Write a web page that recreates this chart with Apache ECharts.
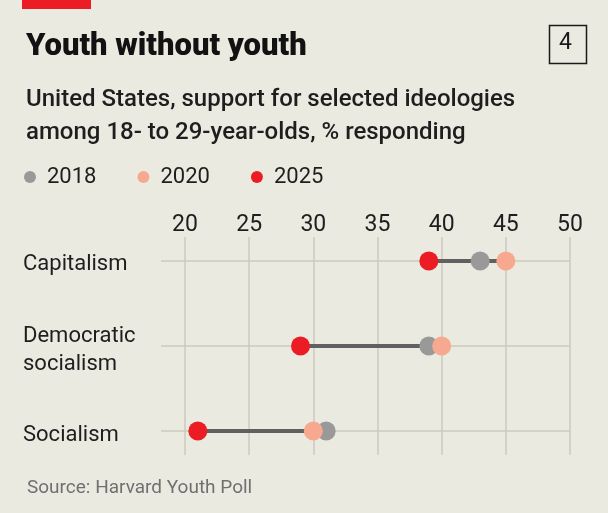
<!DOCTYPE html>
<html lang="en">
<head>
    <meta charset="UTF-8">
    <title>Youth without youth</title>
    <style>
        html, body { margin: 0; padding: 0; background: #ebeae0; }
        #chart { width: 608px; height: 513px; }
    </style>
</head>
<body>
    <div id="chart"></div>
    <script src="https://cdn.jsdelivr.net/npm/echarts@6/dist/echarts.min.js"></script>
    <script type="text/javascript">
        var categories = ['Capitalism', 'Democratic\nsocialism', 'Socialism'];
        var years = ['2018', '2020', '2025'];
        var values2018 = [43, 39, 31];
        var values2020 = [45, 40, 30];
        var values2025 = [39, 29, 21];
        var xTicks = [20, 25, 30, 35, 40, 45, 50];

        var RED = '#ec1c24';
        var PINK = '#f6a98e';
        var GREY = '#999999';
        var FONT = 'Roboto';

        // one row per category: [index, low, high]
        var spans = [];
        for (var i = 0; i < categories.length; i++) {
            var vals = [values2018[i], values2020[i], values2025[i]];
            spans.push([i, Math.min.apply(null, vals), Math.max.apply(null, vals)]);
        }
        var points = function(arr){
            return arr.map(function(v, i){ return [v, i]; });
        };
        // top padding nudges the label text a few px lower
        var catLabel = function(v){
            var lines = categories[Math.round(v)].split('\n');
            if (lines.length === 1) return '{one|' + lines[0] + '}';
            return lines.map(function(s, k){ return (k === 0 ? '{first|' : '{rest|') + s + '}'; }).join('\n');
        };

        var myChart = echarts.init(document.getElementById('chart'), null, {renderer: 'canvas'});
        myChart.setOption({
            backgroundColor: '#ebeae0',
            animation: false,
            title: [
                {
                    text: 'Youth without youth',
                    left: 21, top: 27,
                    textStyle: {fontFamily: FONT, fontSize: 31, fontWeight: 900, color: '#121212'}
                },
                {
                    text: 'United States, support for selected ideologies\namong 18- to 29-year-olds, % responding',
                    left: 21, top: 78,
                    textStyle: {fontFamily: FONT, fontSize: 24, fontWeight: 500, color: '#1e1e1e', lineHeight: 33}
                },
                {
                    text: 'Source: Harvard Youth Poll',
                    left: 22, top: 474,
                    textStyle: {fontFamily: FONT, fontSize: 19, fontWeight: 'normal', color: '#707070'}
                }
            ],
            legend: {
                data: years,
                left: 24, top: 166,
                padding: 0,
                icon: 'circle',
                itemWidth: 12, itemHeight: 12,
                itemGap: 41,
                textStyle: {fontFamily: FONT, fontSize: 22, color: '#1e1e1e', padding: [0, 0, 0, 6]}
            },
            graphic: [
                {type: 'rect', left: 22, top: 0, shape: {width: 69, height: 9}, style: {fill: RED}},
                {type: 'rect', left: 547, top: 23, shape: {width: 37, height: 38},
                    style: {fill: 'none', stroke: '#1a1a1a', lineWidth: 1.5}},
                {type: 'text', x: 565.5, y: 43,
                    style: {text: '4', fontFamily: FONT, fontSize: 23, fill: '#1a1a1a',
                        textAlign: 'center', textVerticalAlign: 'middle'}}
            ],
            grid: {left: 161, right: 38, top: 237, bottom: 58},
            xAxis: {
                type: 'value',
                position: 'top',
                min: 18.13, max: 50,
                axisLine: {show: false},
                axisTick: {show: false, customValues: xTicks},
                axisLabel: {
                    customValues: xTicks,
                    margin: 0,
                    fontFamily: FONT, fontSize: 23, color: '#1e1e1e'
                },
                splitLine: {show: true, lineStyle: {color: '#cccabf', width: 1.5}}
            },
            yAxis: {
                type: 'value',
                inverse: true,
                min: -0.282, max: 2.282,
                axisLine: {show: false},
                axisTick: {show: false, customValues: [0, 1, 2]},
                axisLabel: {
                    customValues: [0, 1, 2],
                    formatter: catLabel,
                    align: 'left',
                    margin: 138,
                    rich: {
                        one: {fontFamily: FONT, fontSize: 22, lineHeight: 28, color: '#1e1e1e', padding: [8, 0, 0, 0]},
                        first: {fontFamily: FONT, fontSize: 22, lineHeight: 28, color: '#1e1e1e', padding: [8, 0, 0, 0]},
                        rest: {fontFamily: FONT, fontSize: 22, lineHeight: 28, color: '#1e1e1e', padding: [8, 0, 0, 0]}
                    }
                },
                splitLine: {show: true, lineStyle: {color: '#cccabf', width: 1.5}}
            },
            series: [
                {
                    type: 'custom',
                    name: 'span',
                    data: spans,
                    z: 1,
                    renderItem: function(params, api){
                        var a = api.coord([api.value(1), api.value(0)]);
                        var b = api.coord([api.value(2), api.value(0)]);
                        return {
                            type: 'line',
                            shape: {x1: a[0], y1: a[1], x2: b[0], y2: b[1]},
                            style: {stroke: '#606060', lineWidth: 4}
                        };
                    }
                },
                {name: '2018', type: 'scatter', data: points(values2018), symbolSize: 19, itemStyle: {color: GREY, opacity: 1}, z: 2},
                {name: '2020', type: 'scatter', data: points(values2020), symbolSize: 19, itemStyle: {color: PINK, opacity: 1}, z: 3},
                {name: '2025', type: 'scatter', data: points(values2025), symbolSize: 19, itemStyle: {color: RED, opacity: 1}, z: 4}
            ]
        });
    </script>
</body>
</html>
